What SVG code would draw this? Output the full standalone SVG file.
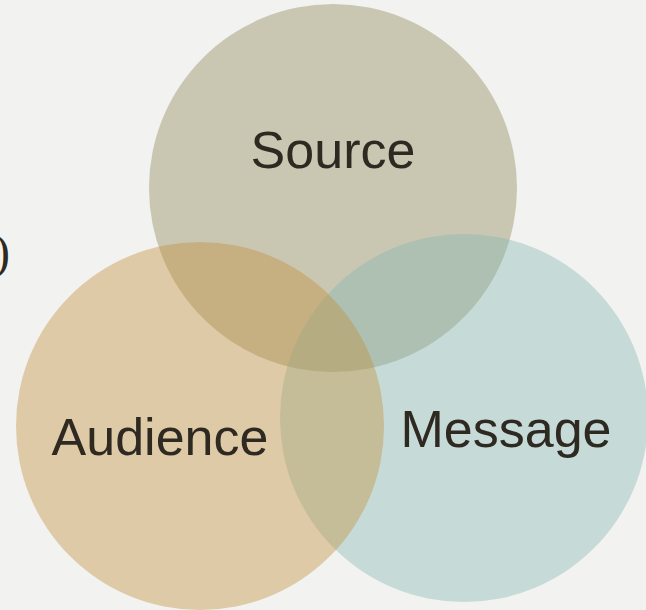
<svg xmlns="http://www.w3.org/2000/svg" width="646" height="610" viewBox="0 0 646 610">
<style>
.lbl{font-family:"Liberation Sans",Arial,sans-serif;font-size:52px;fill:#2e2a22;text-anchor:middle}
.c{fill-opacity:0.4}
</style>
<rect width="646" height="610" fill="#f2f2f0"/>
<text x="-6" y="268" font-family="'Liberation Serif',serif" font-size="48" fill="#2e2a22">)</text>
<g id="source"><circle class="c" cx="333" cy="188" r="184" fill="#8c8452"/></g>
<g id="message"><circle class="c" cx="464" cy="418" r="184" fill="#84b6b3"/></g>
<g id="audience"><circle class="c" cx="200" cy="426" r="184" fill="#c28e39"/></g>
<g id="labels">
<text class="lbl" x="333" y="168">Source</text>
<text class="lbl" x="160" y="455">Audience</text>
<text class="lbl" x="506" y="447">Message</text>
</g>
<g id="connectors"/>
</svg>
